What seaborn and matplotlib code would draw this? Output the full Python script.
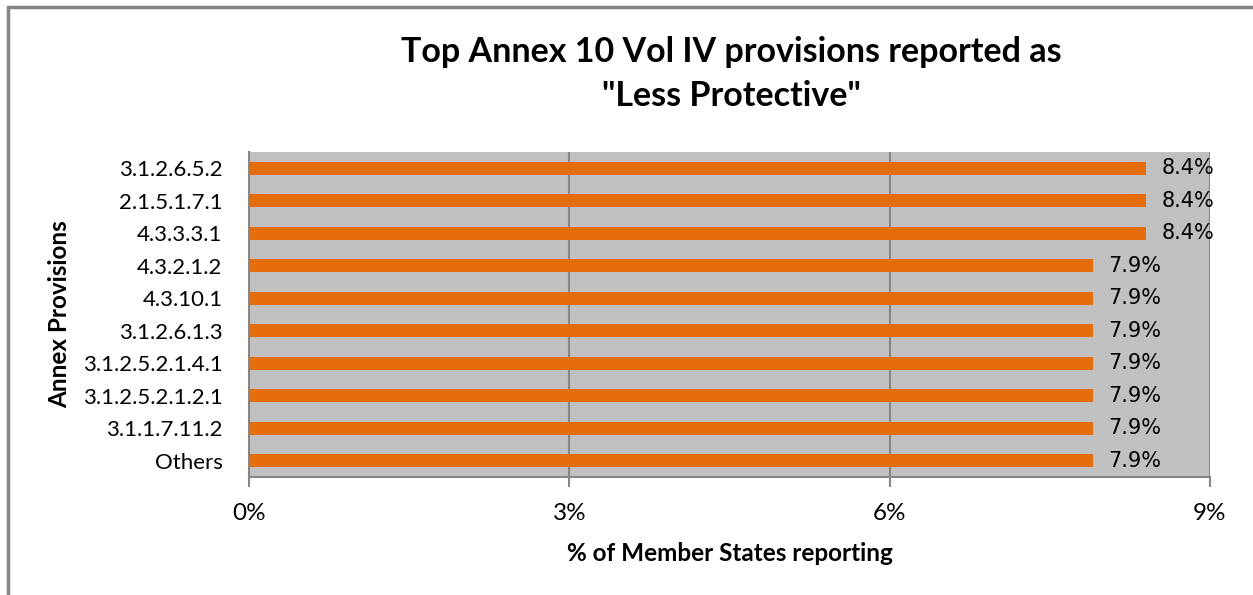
import matplotlib
matplotlib.use("Agg")
import matplotlib.pyplot as plt
import seaborn as sns
import pandas as pd
from matplotlib.patches import Rectangle

provisions = ["3.1.2.6.5.2", "2.1.5.1.7.1", "4.3.3.3.1", "4.3.2.1.2", "4.3.10.1",
              "3.1.2.6.1.3", "3.1.2.5.2.1.4.1", "3.1.2.5.2.1.2.1", "3.1.1.7.11.2", "Others"]
values = [8.4, 8.4, 8.4, 7.9, 7.9, 7.9, 7.9, 7.9, 7.9, 7.9]
xticks = [0, 3, 6, 9]
xticklabels = ["0%", "3%", "6%", "9%"]

df = pd.DataFrame({"provision": provisions, "value": values})

sns.set_theme(style="white")
plt.rcParams['font.family'] = ['Lato', 'DejaVu Sans']
plt.rcParams['text.color'] = 'black'
plt.rcParams['axes.labelcolor'] = 'black'
plt.rcParams['xtick.color'] = 'black'
plt.rcParams['ytick.color'] = 'black'

fig = plt.figure(figsize=(12.53, 5.95), dpi=100)
ax = fig.add_axes([249/1253, 1-477/595, (1210-249)/1253, (477-152)/595])
ax.set_facecolor("#C0C0C0")

sns.barplot(data=df, x="value", y="provision", orient="h", color="#E46C0A",
            saturation=1, width=0.4, ax=ax, order=provisions, linewidth=0, edgecolor="none")

ax.set_xlim(0, 9)
ax.set_ylim(9.5, -0.5)
ax.set_xticks(xticks)
ax.set_xticklabels(xticklabels, fontsize=17.5)
for x in [3, 6, 9]:
    ax.axvline(x, color="#868686", lw=1.5, zorder=0.5)
ax.set_axisbelow(True)

ax.tick_params(axis="x", which="both", bottom=True, length=7, width=1.5, color="#868686",
               pad=12, labelcolor="black")
ax.tick_params(axis="y", left=False, pad=13, labelcolor="black")
for lbl in ax.get_yticklabels():
    lbl.set_fontsize(16)

for s in ["top", "right"]:
    ax.spines[s].set_visible(False)
for s in ["left", "bottom"]:
    ax.spines[s].set_color("#868686")
    ax.spines[s].set_linewidth(1.5)

for i, v in enumerate(values):
    ax.text(v + 0.15, i, f"{v:.1f}%", va="center", ha="left", fontsize=15,
            family="DejaVu Sans", color="black")

ax.set_xlabel("% of Member States reporting", fontsize=17.5, fontweight="bold", labelpad=13,
              color="black")
ax.set_ylabel("Annex Provisions", fontsize=17.5, fontweight="bold", labelpad=8.5, color="black")

fig.text(731/1253, 1-74/595, "Top Annex 10 Vol IV provisions reported as\n\"Less Protective\"",
         ha="center", va="center", fontsize=24.5, fontweight="bold", linespacing=1.45,
         color="black")

fig.patches.append(Rectangle((7.5/1253, -0.1), 1.2, 1-7.5/595+0.1, transform=fig.transFigure,
                             fill=False, edgecolor="#868686", lw=2.5, zorder=10))

fig.savefig("out.png", dpi=100)
